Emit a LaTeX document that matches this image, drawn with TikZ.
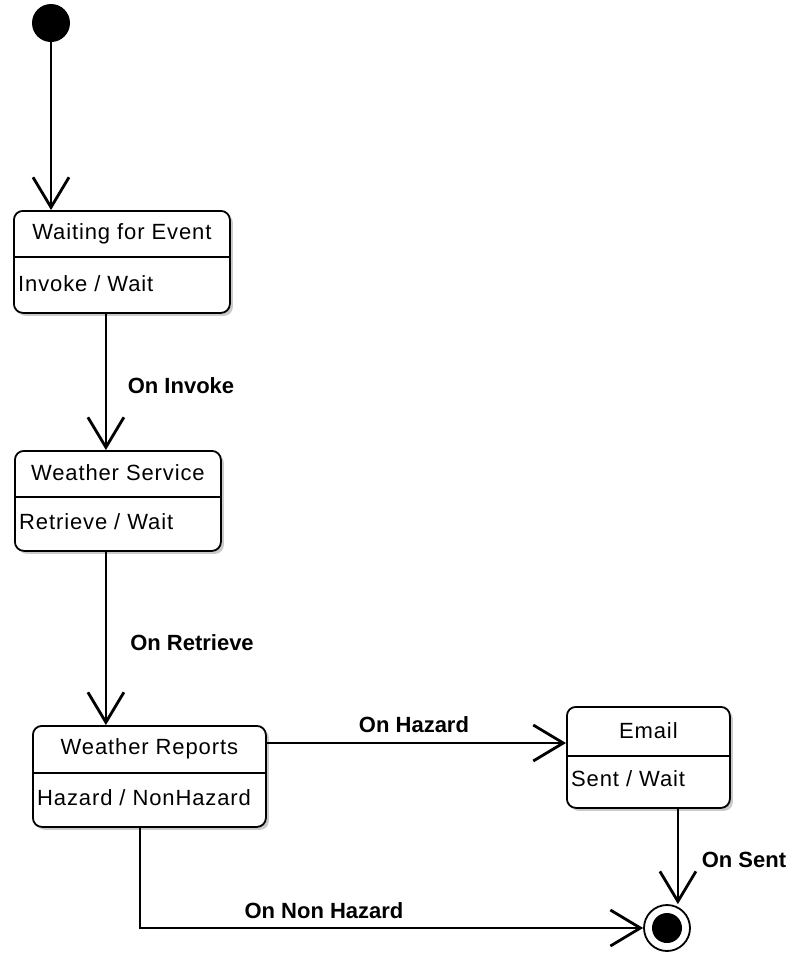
\documentclass[tikz,border=0pt]{standalone}
\usepackage{fontspec}
\setmainfont{Liberation Sans}
\usetikzlibrary{arrows.meta,shadows}
\begin{document}
\begin{tikzpicture}[x=1pt,y=-1pt,
  state/.style={draw, line width=1.8pt, rounded corners=9pt, fill=white,
    anchor=north west, inner sep=0pt,
    drop shadow={shadow xshift=3pt, shadow yshift=-3pt, fill=black!35, opacity=0.6}},
  divider/.style={line width=1.5pt},
  ttl/.style={inner sep=0pt, font=\fontsize{22}{26}\selectfont\addfontfeature{LetterSpace=4}},
  body/.style={inner sep=0pt, anchor=west, font=\fontsize{22}{26}\selectfont\addfontfeature{LetterSpace=4}},
  lbl/.style={inner sep=0pt, font=\fontsize{22}{26}\selectfont\bfseries},
  arr/.style={line width=2.8pt, -{Straight Barb[length=30pt,width=36pt]}}]
\useasboundingbox (0,0) rectangle (795,959);

% initial pseudo-state
\node[circle, fill=black, minimum size=38pt, inner sep=0pt] (init) at (51,23) {};

% Waiting for Event
\node[state, minimum width=216pt, minimum height=102pt] (wf) at (13,210) {};
\draw[divider] (wf.west |- 0,257) -- (wf.east |- 0,257);
\node[ttl] (wf-t) at (wf.north |- 0,234) {Waiting for Event};
\node[body] (wf-b) at ([xshift=5pt]wf.west |- 0,284) {Invoke / Wait};

% Weather Service
\node[state, minimum width=206pt, minimum height=100pt] (ws) at (14,450) {};
\draw[divider] (ws.west |- 0,497) -- (ws.east |- 0,497);
\node[ttl] (ws-t) at (ws.north |- 0,473) {Weather Service};
\node[body] (ws-b) at ([xshift=5pt]ws.west |- 0,522) {Retrieve / Wait};

% Weather Reports
\node[state, minimum width=233pt, minimum height=101pt] (wr) at (32,725) {};
\draw[divider] (wr.west |- 0,773) -- (wr.east |- 0,773);
\node[ttl] (wr-t) at (wr.north |- 0,749) {Weather Reports};
\node[body] (wr-b) at ([xshift=5pt]wr.west |- 0,798) {Hazard / NonHazard};

% Email
\node[state, minimum width=163pt, minimum height=101pt] (em) at (566,706) {};
\draw[divider] (em.west |- 0,756) -- (em.east |- 0,756);
\node[ttl] (em-t) at (em.north |- 0,731) {Email};
\node[body] (em-b) at ([xshift=5pt]em.west |- 0,779) {Sent / Wait};

% final state
\node[circle, draw, line width=1.8pt, fill=white, minimum size=46pt, inner sep=0pt] (fin) at (667,928) {};
\node[circle, fill=black, minimum size=30pt, inner sep=0pt] (fin-dot) at (fin.center) {};

% transitions
\draw[arr] (init.south) -- (init.south |- wf.north);
\draw[arr] ([xshift=-16pt]wf.south) -- ([xshift=-16pt]wf.south |- ws.north);
\draw[arr] ([xshift=-12pt]ws.south) -- ([xshift=-12pt]ws.south |- wr.north);
\draw[arr] ([yshift=-18pt]wr.north east) -- ([yshift=-18pt]wr.north east -| em.west);
\draw[arr] ([xshift=29.5pt]em.south) -- ([xshift=29.5pt]em.south |- fin.north);
\draw[arr] ([xshift=-9.5pt]wr.south) |- (fin.west);

% transition labels
\node[lbl] (l-invoke) at (181,386) {On Invoke};
\node[lbl] (l-retrieve) at (192,643) {On Retrieve};
\node[lbl] (l-hazard) at (414,725) {On Hazard};
\node[lbl] (l-sent) at (744,860) {On Sent};
\node[lbl] (l-nonhazard) at (324,911) {On Non Hazard};
\end{tikzpicture}
\end{document}
